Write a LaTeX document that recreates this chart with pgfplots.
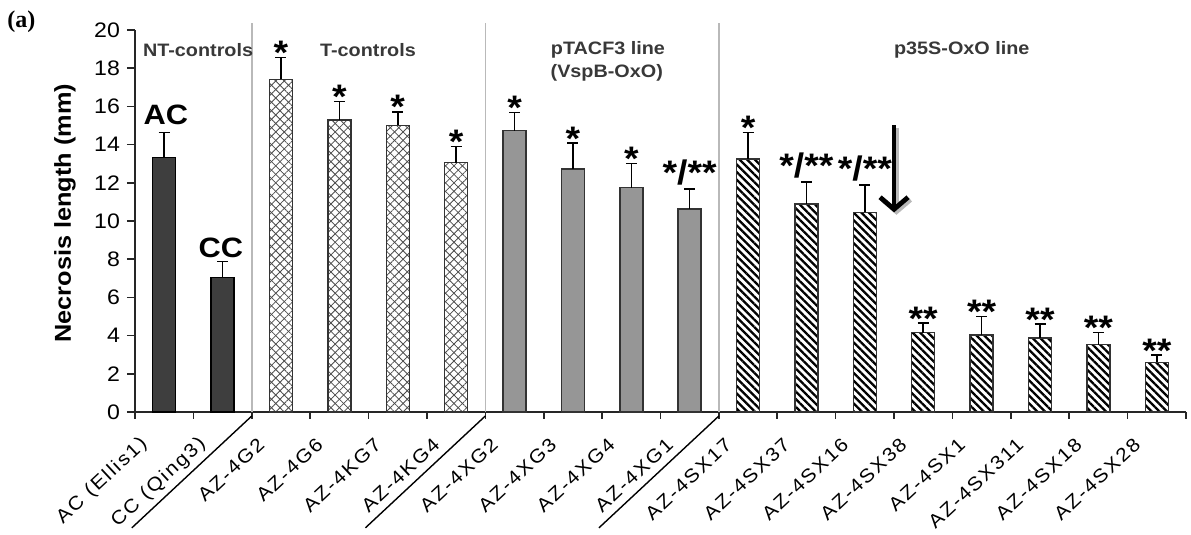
\documentclass[border=0pt]{standalone}
\usepackage{fontspec}
\setmainfont{Liberation Sans}[FakeStretch=1.1]
\newfontfamily\serifbold{Liberation Serif}
\newfontfamily\lblfont{Liberation Sans}[FakeStretch=1.1, LetterSpace=10]
\usepackage{pgfplots}
\usepackage{pgfplotstable}
\pgfplotsset{compat=1.18}
\usetikzlibrary{patterns.meta,arrows.meta}

\definecolor{ntgray}{HTML}{3E3E3E}
\definecolor{pgray}{HTML}{969696}

\tikzset{
  star/.style={font=\bfseries\fontsize{17}{17}\selectfont, anchor=base, inner sep=0pt, yshift=-3.6pt},
  starb/.style={font=\bfseries\fontsize{17}{17}\selectfont, anchor=base, inner sep=0pt, yshift=2pt},
  grp/.style={font=\bfseries\fontsize{9}{10}\selectfont, text=black!78},
}

\pgfplotstableread{
x y e
0 13.34 1.30
1 7.05 0.82
}\ntdata
\pgfplotstableread{
x y e
2 17.42 1.15
3 15.29 0.96
4 15.00 0.72
5 13.05 0.84
}\tdata
\pgfplotstableread{
x y e
6 14.73 0.96
7 12.72 1.35
8 11.74 1.28
9 10.63 1.05
}\pdata
\pgfplotstableread{
x y e
10 13.25 1.39
11 10.90 1.15
12 10.45 1.45
13 4.15 0.52
14 4.03 0.98
15 3.88 0.72
16 3.52 0.65
17 2.60 0.38
}\sdata

\begin{document}
\begin{tikzpicture}
\useasboundingbox (0,0) rectangle (595.5pt,267.5pt);
\node[anchor=north west, inner sep=0pt, font=\serifbold\bfseries\fontsize{12}{12}\selectfont] at (3.5pt,262.5pt) {(a)};
\begin{axis}[
  at={(67.5pt,61.5pt)}, anchor=south west,
  scale only axis, width=525.5pt, height=191pt,
  xmin=-0.5, xmax=17.5, ymin=0, ymax=20,
  clip=false,
  axis lines=left,
  axis line style={-, line width=1pt, black!85},
  ytick={0,2,...,20},
  xtick={0,...,17},
  xticklabels={AC (Ellis1), CC (Qing3), AZ-4G2, AZ-4G6, AZ-4KG7, AZ-4KG4, AZ-4XG2, AZ-4XG3, AZ-4XG4, AZ-4XG1, AZ-4SX17, AZ-4SX37, AZ-4SX16, AZ-4SX38, AZ-4SX1, AZ-4SX311, AZ-4SX18, AZ-4SX28},
  minor xtick={-0.5,0.5,...,17.5},
  tick align=outside,
  major x tick style={draw=none},
  major tick length=4pt,
  minor tick length=3.5pt,
  tick style={line width=0.8pt, black!85},
  /pgf/number format/assume math mode=true,
  yticklabel style={font=\fontsize{10.5}{12}\selectfont},
  xticklabel style={font=\lblfont\fontsize{9.5}{11}\selectfont, inner sep=1pt, xshift=-9pt, yshift=-10pt, rotate=43, anchor=east},
  ylabel={Necrosis length (mm)},
  ylabel style={at={(axis description cs:-0.0666,0.52)}, anchor=center, font=\bfseries\fontsize{11.5}{13}\selectfont},
  error bars/y dir=plus,
  error bars/y explicit,
  error bars/error bar style={line width=0.8pt, black},
  error bars/error mark options={rotate=90, mark size=2.75pt, line width=0.8pt, black},
]
% separators
\draw[gray!55, line width=0.8pt] (axis cs:1.5,0) -- (axis cs:1.5,20.37);
\draw[gray!55, line width=0.8pt] (axis cs:5.5,0) -- (axis cs:5.5,20.37);
\draw[gray!55, line width=0.8pt] (axis cs:9.5,0) -- (axis cs:9.5,20.37);

\addplot[ybar, bar width=11.5pt, bar shift=0pt, fill=ntgray, draw=black, line width=0.7pt]
  table[x=x, y=y, y error=e] \ntdata;
\addplot[ybar, bar width=11.5pt, bar shift=0pt, fill=white, draw=black!80, line width=0.7pt,
  postaction={pattern color=black!70, pattern={Lines[angle=45,distance=3pt,line width=0.4pt]}},
  postaction={pattern color=black!70, pattern={Lines[angle=-45,distance=3pt,line width=0.4pt]}}]
  table[x=x, y=y, y error=e] \tdata;
\addplot[ybar, bar width=11.5pt, bar shift=0pt, fill=pgray, draw=black!80, line width=0.7pt]
  table[x=x, y=y, y error=e] \pdata;
\addplot[ybar, bar width=11.5pt, bar shift=0pt, fill=white, draw=black!80, line width=0.7pt,
  postaction={pattern color=black, pattern={Lines[angle=-45,distance=2.7pt,line width=1.15pt]}}]
  table[x=x, y=y, y error=e] \sdata;

% group titles
\node[grp] at (axis cs:0.58,18.95) {NT-controls};
\node[grp] at (axis cs:3.49,18.95) {T-controls};
\node[grp] at (axis cs:7.6,18.95) {pTACF3 line};
\node[grp] at (axis cs:7.58,17.75) {(VspB-OxO)};
\node[grp] at (axis cs:13.66,18.95) {p35S-OxO line};

\node[font=\bfseries\fontsize{14}{14}\selectfont] at (axis cs:0.03,15.55) {AC};
\node[font=\bfseries\fontsize{14}{14}\selectfont] at (axis cs:0.97,8.59) {CC};

% significance marks
\node[star] at (axis cs:2,18.57) {*};
\node[star] at (axis cs:3,16.25) {*};
\node[star] at (axis cs:4,15.72) {*};
\node[star] at (axis cs:5,13.89) {*};
\node[star] at (axis cs:6,15.69) {*};
\node[star] at (axis cs:7,14.07) {*};
\node[star] at (axis cs:8,13.02) {*};
\node[starb] at (axis cs:9,11.68) {*/**};
\node[star] at (axis cs:10,14.64) {*};
\node[starb] at (axis cs:11,12.05) {*/**};
\node[starb] at (axis cs:12,11.90) {*/**};
\node[star] at (axis cs:13,4.67) {**};
\node[star] at (axis cs:14,5.01) {**};
\node[star] at (axis cs:15,4.60) {**};
\node[star] at (axis cs:16,4.17) {**};
\node[star] at (axis cs:17,2.98) {**};

% arrow
\draw[gray!55, line width=2.4pt, -{Straight Barb[length=6pt,width=14pt]}] ([xshift=1.2pt,yshift=-1.2pt]axis cs:12.5,15.0) -- ([xshift=1.2pt,yshift=-1.2pt]axis cs:12.5,10.45);
\draw[black, line width=2.4pt, -{Straight Barb[length=6pt,width=14pt]}] (axis cs:12.5,15.0) -- (axis cs:12.5,10.45);

% label underlines
\draw[line width=0.7pt] ([yshift=-2pt]axis cs:1.5,0) -- ++(223:82pt);
\draw[line width=0.7pt] ([yshift=-2pt]axis cs:5.5,0) -- ++(223:82pt);
\draw[line width=0.7pt] ([yshift=-2pt]axis cs:9.5,0) -- ++(223:82pt);
\end{axis}
\end{tikzpicture}
\end{document}
